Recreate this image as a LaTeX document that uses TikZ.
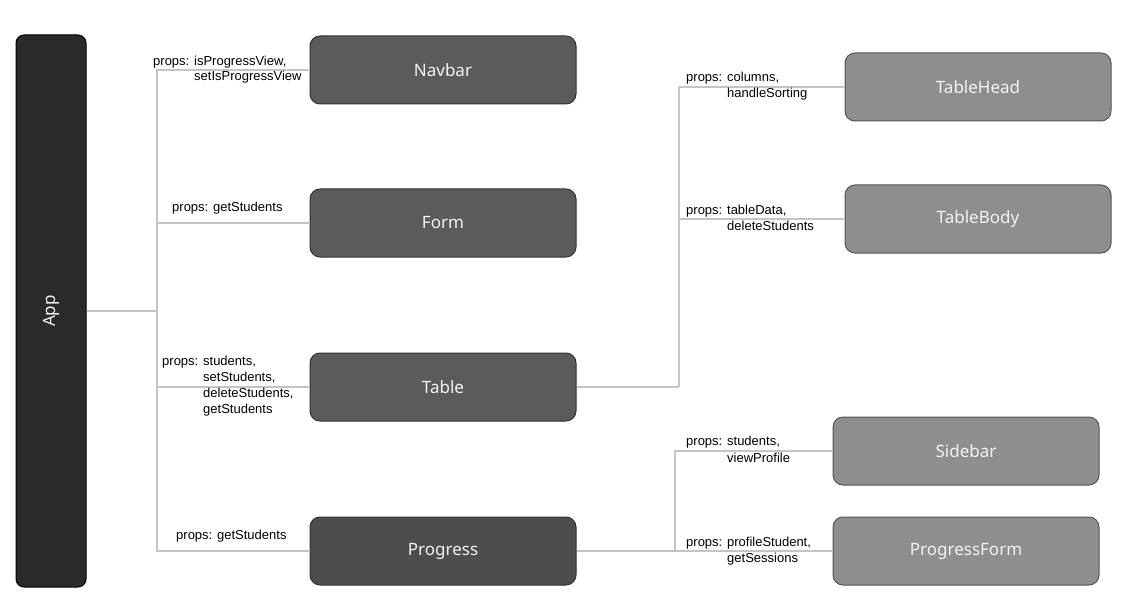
\documentclass[tikz,border=0pt]{standalone}
\usepackage{fontspec}
\setmainfont{Liberation Sans}
\newfontfamily\boxfont{Noto Sans}
\definecolor{appfill}{HTML}{2A2A2A}
\definecolor{midfill}{HTML}{5B5B5B}
\definecolor{progfill}{HTML}{4D4D4D}
\definecolor{midline}{HTML}{333333}
\definecolor{rightfill}{HTML}{8E8E8E}
\definecolor{rightline}{HTML}{555555}
\definecolor{wire}{HTML}{C4C4C4}
\definecolor{boxtext}{HTML}{F2F2F2}
\begin{document}
\begin{tikzpicture}[x=1pt,y=-1pt,
  comp/.style={draw=midline,line width=1pt,fill=midfill,rounded corners=10pt,
    minimum width=266pt,minimum height=68pt,inner sep=0pt,text=boxtext,
    font=\boxfont\fontsize{17}{20}\selectfont},
  child/.style={comp,draw=rightline,fill=rightfill},
  wireline/.style={draw=wire,line width=1.5pt},
  lbl/.style={inner sep=0pt,anchor=west,font=\fontsize{13}{15}\selectfont,text=black}]
\useasboundingbox (0,0) rectangle (1128,615);
\node[comp,draw=black,fill=appfill,minimum width=70pt,minimum height=552pt,rounded corners=8pt] (app) at (51,311) {};
\node[text=boxtext,rotate=90,font=\boxfont\fontsize{17}{20}\selectfont] (apptxt) at (app.center) {App};
\node[comp] (navbar) at (443,70) {Navbar};
\node[comp] (form) at (443,223) {Form};
\node[comp] (table) at (443,387) {Table};
\node[comp,fill=progfill] (progress) at (443,551) {Progress};
\node[child] (thead) at (978,87) {TableHead};
\node[child] (tbody) at (978,219) {TableBody};
\node[child] (sidebar) at (966,451) {Sidebar};
\node[child] (pform) at (966,551) {ProgressForm};
\coordinate (j1) at (157,311);
\coordinate (j2) at (679,386);
\coordinate (j3) at (675,550);
\draw[wireline] (app.east |- j1) -- (j1);
\draw[wireline] (navbar.west) -| (j1) |- (progress.west);
\draw[wireline] (form.west) -- (form.west -| j1);
\draw[wireline] (table.west) -- (table.west -| j1);
\draw[wireline] (table.east) -- (table.east -| j2);
\draw[wireline] (thead.west) -| (table.east -| j2);
\draw[wireline] (tbody.west) -- (tbody.west -| j2);
\draw[wireline] (progress.east) -- (progress.east -| j3);
\draw[wireline] (sidebar.west) -| (progress.east -| j3) -- (pform.west);
% labels
\node[lbl] (l1a) at (153,62) {props: isProgressView,};
\node[lbl] (l1b) at (194,77) {setIsProgressView};
\node[lbl] (l2) at (172,208) {props: getStudents};
\node[lbl] (l3a) at (162,362) {props: students,};
\node[lbl] (l3b) at (203,378) {setStudents,};
\node[lbl] (l3c) at (203,394) {deleteStudents,};
\node[lbl] (l3d) at (203,410) {getStudents};
\node[lbl] (l4) at (176,536) {props: getStudents};
\node[lbl] (l5a) at (686,78) {props: columns,};
\node[lbl] (l5b) at (727,94) {handleSorting};
\node[lbl] (l6a) at (686,211) {props: tableData,};
\node[lbl] (l6b) at (727,226) {deleteStudents};
\node[lbl] (l7a) at (686,442) {props: students,};
\node[lbl] (l7b) at (727,458) {viewProfile};
\node[lbl] (l8a) at (686,543) {props: profileStudent,};
\node[lbl] (l8b) at (727,559) {getSessions};
\end{tikzpicture}
\end{document}
